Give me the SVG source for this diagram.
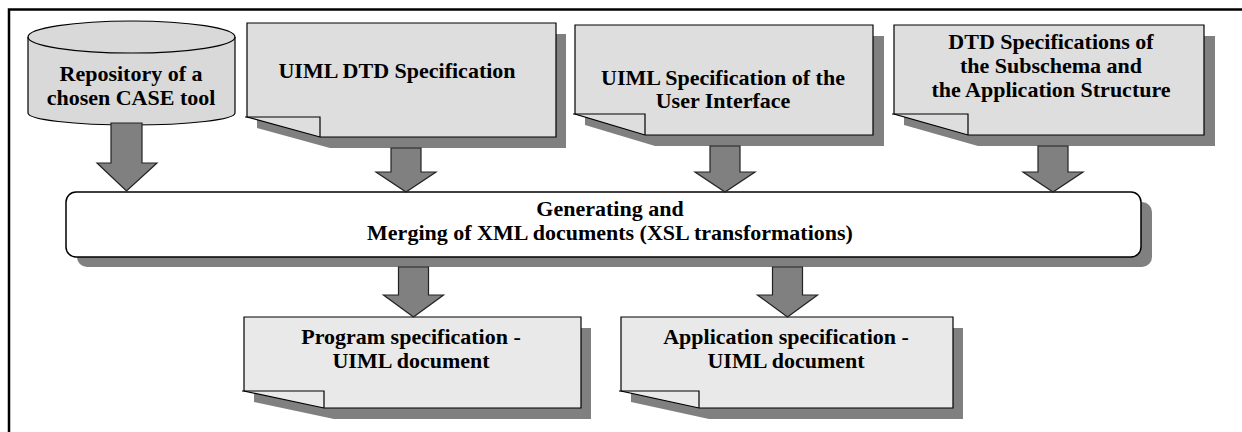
<svg xmlns="http://www.w3.org/2000/svg" width="1242" height="432" viewBox="0 0 1242 432">
  <style>
    .frame { stroke: #000; stroke-width: 2.5; fill: none; }
    .shadow { fill: #808080; stroke: none; }
    .doc { fill: #dedede; stroke: #000; stroke-width: 1.2; }
    .doc2 { fill: #e9e9e9; stroke: #000; stroke-width: 1.2; }
    .fold { fill: none; stroke: #000; stroke-width: 1.2; }
    .arrow { fill: #808080; stroke: #222; stroke-width: 1.2; stroke-linejoin: miter; }
    .proc { fill: #fff; stroke: #000; stroke-width: 1.5; }
    .lbl { font-family: "Liberation Serif", "Times New Roman", serif; font-weight: bold; font-size: 22px; fill: #000; text-anchor: middle; }
  </style>

  <!-- page frame (top and left edges) -->
  <path class="frame" d="M9,432 V9.5 H1242"/>

  <!-- repository cylinder -->
  <g id="repository">
    <path class="doc" style="fill:#d9d9d9" d="M28,37 A103.5,16 0 0 1 235,37 V113 A103.5,12 0 0 1 28,113 Z"/>
    <path class="fold" d="M28,37 A103.5,16 0 0 0 235,37"/>
    <text class="lbl" x="131" y="81">Repository of a</text>
    <text class="lbl" x="131" y="104.5">chosen CASE tool</text>
  </g>

  <!-- UIML DTD specification -->
  <g id="uiml-dtd">
    <path class="shadow" d="M257,34 H566 V148 H330 L257,128 Z"/>
    <path class="doc" d="M247,23 H556 V137 H320 L247,117 Z"/>
    <path class="fold" d="M245,117 H320 V137"/>
    <text class="lbl" x="397" y="78">UIML DTD Specification</text>
  </g>

  <!-- UIML specification of the user interface -->
  <g id="uiml-ui">
    <path class="shadow" d="M585,36 H884 V146 H655 L585,125 Z"/>
    <path class="doc" d="M575,25 H873 V135 H645 L575,114 Z"/>
    <path class="fold" d="M573,114 H645 V135"/>
    <text class="lbl" x="723" y="85">UIML Specification of the</text>
    <text class="lbl" x="723" y="108">User Interface</text>
  </g>

  <!-- DTD specifications of subschema and application structure -->
  <g id="dtd-specs">
    <path class="shadow" d="M904,36 H1215 V146 H978 L904,125 Z"/>
    <path class="doc" d="M894,25 H1204 V135 H968 L894,114 Z"/>
    <path class="fold" d="M892,114 H968 V135"/>
    <text class="lbl" x="1051" y="49">DTD Specifications of</text>
    <text class="lbl" x="1051" y="73">the Subschema and</text>
    <text class="lbl" x="1051" y="97">the Application Structure</text>
  </g>

  <!-- XSL generation / merging process -->
  <g id="merge">
    <rect class="shadow" x="77" y="202" width="1075" height="65" rx="10"/>
    <rect class="proc" x="66" y="192" width="1075" height="65" rx="10"/>
    <text class="lbl" x="610" y="216">Generating and</text>
    <text class="lbl" x="610" y="240">Merging of XML documents (XSL transformations)</text>
  </g>

  <!-- program specification output -->
  <g id="program-spec">
    <path class="shadow" d="M254,328 H591 V419 H334 L254,402 Z"/>
    <path class="doc2" d="M244,317 H581 V408 H324 L244,391 Z"/>
    <path class="fold" d="M242,391 H324 V408"/>
    <text class="lbl" x="411" y="344">Program specification -</text>
    <text class="lbl" x="411" y="368">UIML document</text>
  </g>

  <!-- application specification output -->
  <g id="application-spec">
    <path class="shadow" d="M631,328 H963 V419 H709 L631,402 Z"/>
    <path class="doc2" d="M621,317 H953 V408 H699 L621,391 Z"/>
    <path class="fold" d="M619,391 H699 V408"/>
    <text class="lbl" x="786" y="344">Application specification -</text>
    <text class="lbl" x="786" y="368">UIML document</text>
  </g>

  <!-- block arrows -->
  <g id="connectors">
    <path class="arrow" d="M111,123 H142 V163 H157 L126.5,191 L97,163 H111 Z"/>
    <path class="arrow" d="M391,148 H421 V172 H436 L406,192 L376,172 H391 Z"/>
    <path class="arrow" d="M710,146 H740 V172 H755 L725,192 L695,172 H710 Z"/>
    <path class="arrow" d="M1038,146 H1068 V172 H1083 L1053,192 L1023,172 H1038 Z"/>
    <path class="arrow" d="M398.5,267 H428.5 V295 H443.5 L413.5,317 L383.5,295 H398.5 Z"/>
    <path class="arrow" d="M772.5,267 H802.5 V295 H817.5 L787.5,317 L757.5,295 H772.5 Z"/>
  </g>
</svg>
